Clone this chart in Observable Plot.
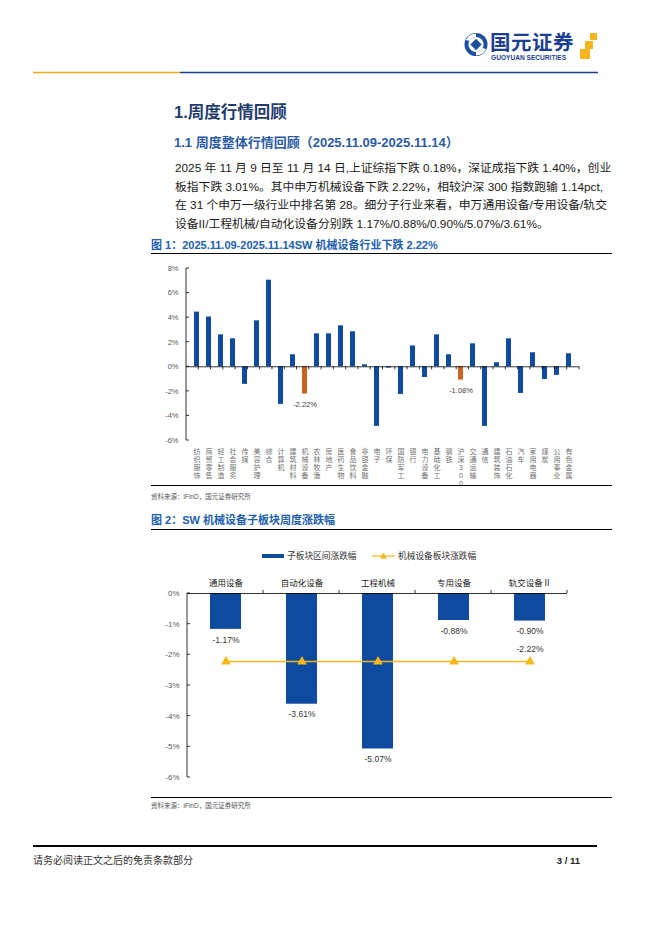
<!DOCTYPE html>
<html lang="zh-CN">
<head>
<meta charset="utf-8">
<script src="https://cdn.jsdelivr.net/npm/d3@7"></script>
<script src="https://cdn.jsdelivr.net/npm/@observablehq/plot@0.6"></script>
<style>
html,body{margin:0;padding:0;background:#fff;}
#page{position:relative;width:662px;height:936px;overflow:hidden;background:#fff;font-family:"Liberation Sans","Noto Sans CJK SC",sans-serif;}
.a{position:absolute;white-space:nowrap;}
.rule{position:absolute;height:0;border-top:1px solid #000;}
.h1{left:174px;top:102px;font-size:16.5px;line-height:20px;font-weight:700;color:#1F3C70;}
.h2{left:174px;top:135px;font-size:13px;line-height:16px;font-weight:700;color:#2B5BA6;}
.p{left:175px;width:425px;font-size:11.8px;line-height:18.5px;color:#1a1a1a;text-align:justify;text-align-last:justify;}
.p.last{text-align-last:left;}
.ft{left:151px;font-size:11px;line-height:14px;font-weight:700;color:#2160AE;}
.src{left:151px;font-size:6.5px;line-height:8px;color:#555;}
.leg{font-size:8.7px;line-height:10px;color:#333;}
#c1{position:absolute;left:140px;top:258px;}
#c2{position:absolute;left:140px;top:535px;}
</style>
</head>
<body>
<div id="page">
  <!-- header -->
  <svg class="a" style="left:0;top:0" width="662" height="80">
    <circle cx="476" cy="44.5" r="11.5" fill="#1D4FA0"/>
    <circle cx="476" cy="44.5" r="7.6" fill="#fff"/>
    <path d="M466 40 A11 11 0 0 1 476 33.5 L476 37 A7.5 7.5 0 0 0 469.5 41 Z" fill="#fff"/>
    <path d="M486 49 A11 11 0 0 1 476 55.5 L476 52 A7.5 7.5 0 0 0 482.5 48 Z" fill="#fff"/>
    <rect x="472" y="40.5" width="8" height="8" transform="rotate(45 476 44.5)" fill="#1D4FA0"/>
    <rect x="590" y="33" width="7" height="7" fill="#F3B61F"/>
    <rect x="585" y="41" width="8" height="8" fill="#F3B61F"/>
    <rect x="580" y="49" width="10" height="10" fill="#F3B61F"/>
    <line x1="33" x2="180" y1="72.5" y2="72.5" stroke="#F2A81D" stroke-width="1.3"/>
    <line x1="180" x2="598" y1="72.5" y2="72.5" stroke="#1B3E8C" stroke-width="1.3"/>
  </svg>
  <div class="a" style="left:490px;top:32px;font-size:20.5px;line-height:22px;font-weight:700;color:#1C3F94;letter-spacing:0.5px;">国元证券</div>
  <div class="a" style="left:491px;top:54px;font-size:6.6px;line-height:7px;font-weight:700;color:#1C3F94;">GUOYUAN SECURITIES</div>

  <div class="a h1">1.周度行情回顾</div>
  <div class="a h2">1.1 周度整体行情回顾（2025.11.09-2025.11.14）</div>
  <div class="a p" style="top:159.25px">2025 年 11 月 9 日至 11 月 14 日,上证综指下跌 0.18%，深证成指下跌 1.40%，创业</div>
  <div class="a p" style="top:177.75px">板指下跌 3.01%。其中申万机械设备下跌 2.22%，相较沪深 300 指数跑输 1.14pct,</div>
  <div class="a p" style="top:196.25px">在 31 个申万一级行业中排名第 28。细分子行业来看，申万通用设备/专用设备/轨交</div>
  <div class="a p last" style="top:214.75px">设备II/工程机械/自动化设备分别跌 1.17%/0.88%/0.90%/5.07%/3.61%。</div>

  <div class="a ft" style="top:238px">图 1：2025.11.09-2025.11.14SW 机械设备行业下跌 2.22%</div>
  <div class="rule" style="left:151px;width:461px;top:253px"></div>
  <div id="c1"></div>
  <div class="rule" style="left:151px;width:461px;top:485px"></div>
  <div class="a src" style="top:493px">资料来源：iFinD，国元证券研究所</div>

  <div class="a ft" style="top:513px">图 2：SW 机械设备子板块周度涨跌幅</div>
  <div class="rule" style="left:151px;width:461px;top:529px"></div>
  <svg class="a" style="left:0;top:548px" width="662" height="16">
    <rect x="262" y="6" width="22" height="4" fill="#0F4AA1"/>
    <line x1="372" x2="395" y1="8" y2="8" stroke="#F6B913" stroke-width="1.2"/>
    <path d="M383.5 4.8 L387 10.5 L380 10.5 Z" fill="#F6B913"/>
  </svg>
  <div class="a leg" style="left:287px;top:551px">子板块区间涨跌幅</div>
  <div class="a leg" style="left:398px;top:551px">机械设备板块涨跌幅</div>
  <div id="c2"></div>
  <div class="rule" style="left:151px;width:461px;top:797px"></div>
  <div class="a src" style="top:802px">资料来源：iFinD，国元证券研究所</div>

  <div class="rule" style="left:33px;width:564px;top:845px;border-top-width:2px"></div>
  <div class="a" style="left:33px;top:855px;font-size:10px;line-height:12px;color:#333;">请务必阅读正文之后的免责条款部分</div>
  <div class="a" style="right:82px;top:855px;font-size:9.5px;line-height:12px;font-weight:700;color:#222;">3 / 11</div>
</div>
<script>
// ---------- data ----------
const industries = ["纺织服饰","商贸零售","轻工制造","社会服务","传媒","美容护理","综合","计算机","建筑材料","机械设备","农林牧渔","房地产","医药生物","食品饮料","非银金融","电子","环保","国防军工","银行","电力设备","基础化工","钢铁","沪深300","交通运输","通信","建筑装饰","石油石化","汽车","家用电器","煤炭","公用事业","有色金属"];
const weeklyChange = [4.45,4.05,2.60,2.28,-1.43,3.74,7.05,-3.06,0.98,-2.22,2.68,2.68,3.33,2.85,0.16,-4.85,-0.10,-2.25,1.70,-0.87,2.60,0.98,-1.08,1.87,-4.85,0.33,2.28,-2.17,1.14,-1.03,-0.70,1.06];
const highlighted = ["机械设备","沪深300"];
const yTicks1 = [-6,-4,-2,0,2,4,6,8];

const subsectors = ["通用设备","自动化设备","工程机械","专用设备","轨交设备Ⅱ"];
const subChange = [-1.17,-3.61,-5.07,-0.88,-0.90];
const sectorChange = -2.22;
const yTicks2 = [0,-1,-2,-3,-4,-5,-6];

const BLUE = "#0F4AA1", ORANGE = "#C8641F", GOLD = "#F6B913";
const FONT = '"Liberation Sans","Noto Sans CJK SC",sans-serif';
const pct = v => `${v.toFixed(2)}%`;

// axis lines and tick marks drawn from the scales
function axisFrame(nCats, xTickDir, ticksY) {
  return (index, scales, values, dims) => {
    const {width, height, marginLeft, marginRight, marginTop, marginBottom} = dims;
    const x0 = marginLeft, x1 = width - marginRight;
    const y = scales.y;
    const g = d3.create("svg:g").attr("stroke", "#000").attr("stroke-width", 0.8).attr("fill", "none");
    g.append("line").attr("x1", x0).attr("x2", x0).attr("y1", marginTop).attr("y2", height - marginBottom);
    for (const t of ticksY) g.append("line").attr("x1", x0).attr("x2", x0 + 3).attr("y1", y(t)).attr("y2", y(t));
    const step = (x1 - x0) / nCats, yz = y(0);
    for (let k = 1; k <= nCats; k++) {
      g.append("line").attr("x1", x0 + k * step).attr("x2", x0 + k * step).attr("y1", yz).attr("y2", yz + 3 * xTickDir);
    }
    return g.node();
  };
}

// ---------- chart 1 ----------
const data1 = industries.map((name, i) => ({name, value: weeklyChange[i], hl: highlighted.includes(name)}));
const chart1 = Plot.plot({
  width: 470, height: 225,
  marginLeft: 46, marginRight: 31, marginTop: 10, marginBottom: 43,
  x: {domain: industries, paddingInner: 0.62, paddingOuter: 0.31},
  y: {domain: [-6, 8]},
  color: {domain: [false, true], range: [BLUE, ORANGE]},
  style: {fontFamily: FONT, background: "transparent", overflow: "visible"},
  marks: [
    Plot.barY(data1, {x: "name", y: "value", fill: "hl"}),
    Plot.ruleY([0], {stroke: "#000", strokeWidth: 0.8}),
    axisFrame(industries.length, 1, yTicks1),
    Plot.axisY({ticks: yTicks1, tickFormat: d => `${d}%`, tickSize: 0, tickPadding: 8, fontSize: 7.5, fill: "#595959", label: null}),
    Plot.axisX({tickSize: 0, tickPadding: 8, tickFormat: d => Array.from(d).join("\n"), lineAnchor: "top", lineHeight: 1.15, fontSize: 7, fill: "#707070", label: null}),
    Plot.text(data1.filter(d => d.hl), {x: "name", y: "value", text: d => pct(d.value), dy: 10.5, fontSize: 7.5, fill: "#404040"})
  ]
});
document.getElementById("c1").appendChild(chart1);

// ---------- chart 2 ----------
const data2 = subsectors.map((name, i) => ({name, value: subChange[i]}));
const line2 = subsectors.map(name => ({name, value: sectorChange}));
const chart2 = Plot.plot({
  width: 470, height: 258,
  marginLeft: 47, marginRight: 43, marginTop: 58, marginBottom: 16,
  x: {domain: subsectors, paddingInner: 0.594, paddingOuter: 0.297},
  y: {domain: [-6, 0]},
  style: {fontFamily: FONT, background: "transparent", overflow: "visible"},
  marks: [
    Plot.barY(data2, {x: "name", y: "value", fill: BLUE}),
    Plot.ruleY([0], {stroke: "#000", strokeWidth: 0.8}),
    axisFrame(subsectors.length, -1, yTicks2),
    Plot.lineY(line2, {x: "name", y: "value", stroke: GOLD, strokeWidth: 1.5}),
    Plot.dot(line2, {x: "name", y: "value", symbol: "triangle", r: 3.6, fill: GOLD, stroke: null}),
    Plot.axisY({ticks: yTicks2, tickFormat: d => `${d}%`, tickSize: 0, tickPadding: 8, fontSize: 8, fill: "#595959", label: null}),
    Plot.axisX({anchor: "top", tickSize: 0, tickPadding: 8, fontSize: 8.5, fill: "#222", label: null}),
    Plot.text(data2, {x: "name", y: "value", text: d => pct(d.value), dy: 10.5, fontSize: 8.5, fill: "#333"}),
    Plot.text(line2.slice(-1), {x: "name", y: "value", text: d => pct(d.value), dy: -12.5, fontSize: 8.5, fill: "#333"})
  ]
});
document.getElementById("c2").appendChild(chart2);
</script>
</body>
</html>
